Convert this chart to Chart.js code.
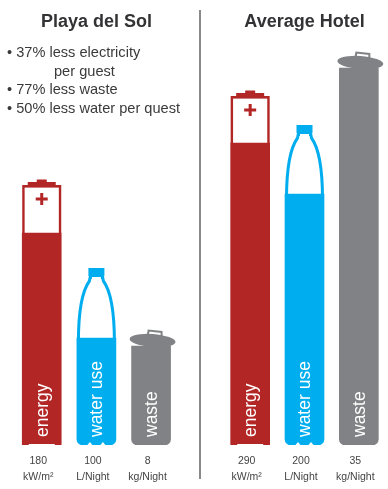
<!DOCTYPE html>
<html>
<head>
<meta charset="utf-8">
<script src="https://cdn.jsdelivr.net/npm/chart.js@4"></script>
<style>
  body { margin: 0; background: #fff; width: 388px; height: 489px; overflow: hidden; position: relative; font-family: "Liberation Sans", sans-serif; }
  canvas { position: absolute; top: 0; }
  #divider { position: absolute; left: 199px; top: 10px; width: 1.5px; height: 469px; background: #8a8a8c; }
  #notes { position: absolute; left: 7px; top: 43px; color: #3a3a3c; font-size: 14.6px; line-height: 18.6px; white-space: nowrap; }
  #notes .indent { padding-left: 47px; }
</style>
</head>
<body>
<canvas id="solChart" width="194" height="489" style="left:0"></canvas>
<canvas id="hotelChart" width="194" height="489" style="left:194px"></canvas>
<div id="divider"></div>
<div id="notes">
  <div>• 37% less electricity</div>
  <div class="indent">per guest</div>
  <div>• 77% less waste</div>
  <div>• 50% less water per quest</div>
</div>
<script>
const categories = ["energy", "water use", "waste"];
const units = ["kW/m²", "L/Night", "kg/Night"];
const colors = ["#b32626", "#00aeef", "#808285"];

const solReadings = ["180", "100", "8"];
const hotelReadings = ["290", "200", "35"];

// drawn heights of the icons, these are not proportional to the readings
const solLevels = [212, 107, 99];
const solContainers = [260, 177, 99];
const hotelLevels = [302, 251, 377];
const hotelContainers = [349, 320, 377];

const drawBattery = (ctx, el, level) => {
    const left = el.x - el.width / 2, top = el.y;
    ctx.fillStyle = colors[0];
    ctx.fillRect(left, top, el.width, level.y - top);
    ctx.fillRect(el.x - 14, top - 3, 28, 3);
    ctx.fillRect(el.x - 5, top - 5.5, 10, 3);
    ctx.fillStyle = "#fff";
    ctx.fillRect(left + 2.4, top + 2.6, el.width - 4.8, level.y - top);
    ctx.fillStyle = colors[0];
    ctx.fillRect(el.x - 6, top + 12.5, 12, 3);
    ctx.fillRect(el.x - 1.5, top + 8, 3, 12);
};

const drawBottle = (ctx, el) => {
    const cx = el.x, top = el.y, half = el.width / 2 - 1.5;
    ctx.beginPath();
    ctx.moveTo(cx - 6, top + 8);
    ctx.lineTo(cx - 7, top + 13);
    ctx.bezierCurveTo(cx - 15, top + 24, cx - half, top + 48, cx - half, top + 74);
    ctx.lineTo(cx + half, top + 74);
    ctx.bezierCurveTo(cx + half, top + 48, cx + 15, top + 24, cx + 7, top + 13);
    ctx.lineTo(cx + 6, top + 8);
    ctx.closePath();
    ctx.fillStyle = "#fff";
    ctx.fill();
    ctx.strokeStyle = colors[1];
    ctx.lineWidth = 3;
    ctx.stroke();
    ctx.fillStyle = colors[1];
    ctx.fillRect(cx - 8, top, 16, 8);
    ctx.fillRect(cx - 7, top + 8, 14, 3);
    ctx.fillStyle = "#fff";
    ctx.fillRect(cx - 4.5, top + 9, 9, 2);
};

const drawLid = (ctx, el) => {
    const cx = el.x + 1.5, cy = el.y - 5.5;
    ctx.strokeStyle = colors[2];
    ctx.lineWidth = 2;
    ctx.beginPath();
    ctx.moveTo(cx - 5, cy - 4);
    ctx.lineTo(cx - 4, cy - 10);
    ctx.lineTo(cx + 9, cy - 8.5);
    ctx.lineTo(cx + 9, cy - 2);
    ctx.stroke();
    ctx.fillStyle = colors[2];
    ctx.beginPath();
    ctx.ellipse(cx, cy, 23, 6.5, 0.07, 0, Math.PI * 2);
    ctx.fill();
};

const iconPlugin = {
    id: "icons",
    beforeDatasetsDraw(chart) {
        const ctx = chart.ctx;
        const level = chart.getDatasetMeta(1).data;
        const shell = chart.getDatasetMeta(0).data;
        ctx.save();
        drawBattery(ctx, shell[0], level[0]);
        drawBottle(ctx, shell[1]);
        ctx.restore();
    },
    afterDatasetsDraw(chart) {
        const ctx = chart.ctx;
        const level = chart.getDatasetMeta(1).data;
        ctx.save();
        drawLid(ctx, level[2]);

        // bottom edge details: battery feet and bottle lobes
        const battery = level[0], bottle = level[1];
        ctx.fillStyle = "#fff";
        ctx.fillRect(battery.x - 13, battery.base - 1, 26, 1);
        [-1, 1].forEach(side => {
            ctx.beginPath();
            ctx.moveTo(bottle.x + side * 6.5 - 2.5, bottle.base);
            ctx.lineTo(bottle.x + side * 6.5, bottle.base - 3);
            ctx.lineTo(bottle.x + side * 6.5 + 2.5, bottle.base);
            ctx.fill();
        });

        // category names run up inside the bars
        ctx.fillStyle = "#fff";
        ctx.font = "17.5px 'Liberation Sans', sans-serif";
        ctx.textAlign = "left";
        ctx.textBaseline = "middle";
        level.forEach((el, i) => {
            ctx.save();
            ctx.translate(el.x + 1, el.base - 8);
            ctx.rotate(-Math.PI / 2);
            ctx.fillText(categories[i], 0, 0);
            ctx.restore();
        });
        ctx.restore();
    }
};

const makeChart = (id, title, readings, containers, levels, padding) => {
    new Chart(id, {
        type: "bar",
        data: {
            labels: readings.map((r, i) => [r, units[i]]),
            datasets: [
                { data: containers, backgroundColor: "transparent", order: 2 },
                {
                    data: levels,
                    backgroundColor: colors,
                    borderRadius: [
                        { bottomLeft: 1, bottomRight: 1 },
                        { bottomLeft: 6, bottomRight: 6 },
                        { bottomLeft: 6, bottomRight: 6 }
                    ],
                    borderSkipped: false,
                    order: 1
                }
            ]
        },
        options: {
            responsive: false,
            animation: false,
            layout: { padding: padding },
            datasets: { bar: { grouped: false, barThickness: 39 } },
            plugins: {
                legend: { display: false },
                tooltip: { enabled: false },
                title: {
                    display: true,
                    text: title,
                    fullSize: false,
                    color: "#333335",
                    font: { family: "'Liberation Sans', sans-serif", size: 18, weight: "bold", lineHeight: 1.2 },
                    padding: { top: 11, bottom: 12.4 }
                }
            },
            scales: {
                x: {
                    grid: { display: false, drawTicks: false },
                    border: { display: false },
                    afterFit: scale => { scale.height = 44; },
                    ticks: {
                        autoSkip: false,
                        maxRotation: 0,
                        padding: 8,
                        labelOffset: -3.5,
                        color: "#444446",
                        font: { family: "'Liberation Sans', sans-serif", size: 10.5, lineHeight: 1.5 }
                    }
                },
                y: { display: false, min: 0, max: 400 }
            }
        },
        plugins: [iconPlugin]
    });
};

makeChart("solChart", "Playa del Sol", solReadings, solContainers, solLevels, { left: 14.4, right: 15.6 });
makeChart("hotelChart", "Average Hotel", hotelReadings, hotelContainers, hotelLevels, { left: 29, right: 2 });
</script>
</body>
</html>
